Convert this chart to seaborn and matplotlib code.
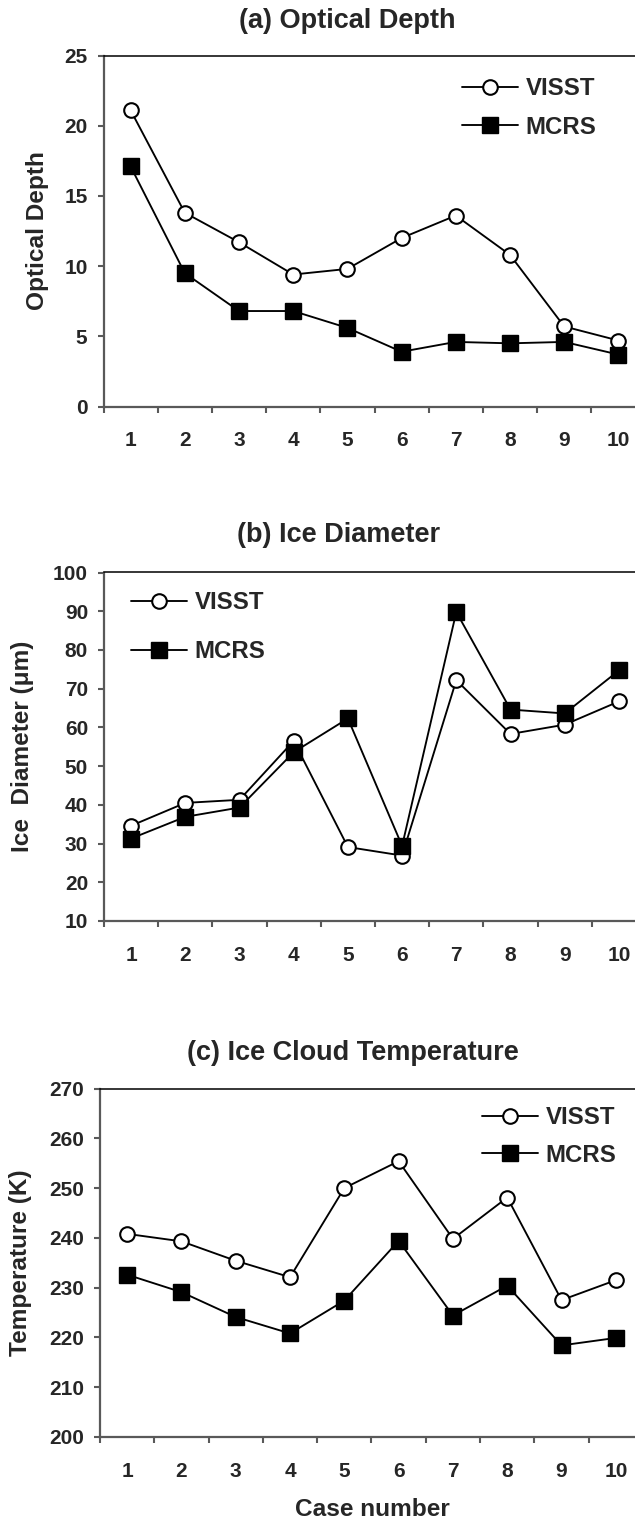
import matplotlib
matplotlib.use("Agg")
import matplotlib.pyplot as plt
import seaborn as sns
import pandas as pd

# ---- data -------------------------------------------------------------
cases = list(range(1, 11))
series_names = ["VISST", "MCRS"]

optical_visst = [21.1, 13.8, 11.7, 9.4, 9.8, 12.0, 13.6, 10.8, 5.7, 4.7]
optical_mcrs = [17.1, 9.5, 6.8, 6.8, 5.6, 3.9, 4.6, 4.5, 4.6, 3.7]

diameter_visst = [34.6, 40.5, 41.3, 56.5, 29.1, 26.9, 72.2, 58.3, 60.7, 66.7]
diameter_mcrs = [31.3, 36.9, 39.3, 53.6, 62.3, 29.4, 89.8, 64.6, 63.6, 74.7]

temp_visst = [240.8, 239.3, 235.4, 232.1, 250.0, 255.4, 239.8, 248.1, 227.5, 231.5]
temp_mcrs = [232.6, 229.1, 224.1, 220.8, 227.4, 239.4, 224.4, 230.4, 218.4, 219.9]

titles = ["(a) Optical Depth", "(b) Ice Diameter", "(c) Ice Cloud Temperature"]
ylabels = ["Optical Depth", "Ice  Diameter (\u03bcm)", "Temperature (K)"]
yticks_a = [0, 5, 10, 15, 20, 25]
yticks_b = [10, 20, 30, 40, 50, 60, 70, 80, 90, 100]
yticks_c = [200, 210, 220, 230, 240, 250, 260, 270]
xlabel = "Case number"

# ---- style ------------------------------------------------------------
sns.set_theme(style="white")
plt.rcParams["font.family"] = ["Liberation Sans", "DejaVu Sans"]
plt.rcParams["font.weight"] = "bold"

W, H = 635, 1522
fig = plt.figure(figsize=(W / 100, H / 100), dpi=100)

AXIS_GREY = "#595959"
TICK_SIZE = 15
LABEL_SIZE = 17.6
LEGEND_SIZE = 17.3
TITLE_SIZE = 19.5


def frac_rect(left, top, right, bottom):
    return [left / W, 1 - bottom / H, (right - left) / W, (bottom - top) / H]


panels = [
    dict(rect=frac_rect(103.5, 55.5, 645.5, 406.5), values=(optical_visst, optical_mcrs),
         yticks=yticks_a, title_xy=(347, 21), ylabel_x=38,
         legend_xy=(462, 77), labelspacing=0.65),
    dict(rect=frac_rect(104, 572.5, 646, 921), values=(diameter_visst, diameter_mcrs),
         yticks=yticks_b, title_xy=(339, 535), ylabel_x=23,
         legend_xy=(131, 591), labelspacing=1.1),
    dict(rect=frac_rect(100, 1088.5, 643, 1437), values=(temp_visst, temp_mcrs),
         yticks=yticks_c, title_xy=(353, 1053), ylabel_x=20,
         legend_xy=(482, 1106), labelspacing=0.62),
]

for i, p in enumerate(panels):
    ax = fig.add_axes(p["rect"])
    v_visst, v_mcrs = p["values"]
    df = pd.DataFrame({"case": cases * 2,
                       "value": list(v_visst) + list(v_mcrs),
                       "series": [series_names[0]] * 10 + [series_names[1]] * 10})

    sns.lineplot(data=df[df.series == "VISST"], x="case", y="value", ax=ax,
                 color="black", linewidth=1.35, marker="o", markersize=10.5,
                 markerfacecolor="white", markeredgecolor="black",
                 markeredgewidth=1.5, legend=False)
    sns.lineplot(data=df[df.series == "MCRS"], x="case", y="value", ax=ax,
                 color="black", linewidth=1.35, marker="s", markersize=11.5,
                 markerfacecolor="black", markeredgecolor="black",
                 markeredgewidth=1.0, legend=False)

    yt = p["yticks"]
    ax.set_ylim(yt[0], yt[-1])
    ax.set_yticks(yt)
    ax.set_xlim(0.5, 10.5)

    # category boundaries carry the tick marks, labels sit at category centres
    ax.set_xticks([c + 0.5 for c in [0] + cases])
    ax.set_xticklabels([])
    ax.set_xticks(cases, minor=True)
    ax.set_xticklabels([str(c) for c in cases], minor=True)

    ax.tick_params(axis="x", which="major", direction="out", length=4.5,
                   width=1.5, color=AXIS_GREY, bottom=True)
    ax.tick_params(axis="x", which="minor", length=0, pad=18, labelsize=TICK_SIZE)
    ax.tick_params(axis="y", direction="out", length=4.5, width=1.5,
                   color=AXIS_GREY, left=True, pad=7, labelsize=TICK_SIZE)

    for lab in ax.get_xticklabels(minor=True) + ax.get_yticklabels():
        lab.set_fontweight("bold")

    ax.spines["left"].set_color(AXIS_GREY)
    ax.spines["left"].set_linewidth(1.6)
    ax.spines["bottom"].set_color(AXIS_GREY)
    ax.spines["bottom"].set_linewidth(1.6)
    ax.spines["top"].set_color("black")
    ax.spines["top"].set_linewidth(1.1)
    ax.spines["right"].set_visible(False)

    ax.set_xlabel("")
    ax.set_ylabel(ylabels[i], fontsize=LABEL_SIZE, fontweight="bold")
    ax.yaxis.set_label_coords((p["ylabel_x"] - p["rect"][0] * W) / (p["rect"][2] * W), 0.5)
    ax.yaxis.label.set_verticalalignment("center")

    tx, ty = p["title_xy"]
    fig.text(tx / W, 1 - ty / H, titles[i], ha="center", va="center",
             fontsize=TITLE_SIZE, fontweight="bold")

    lx, ly = p["legend_xy"]
    ax.legend(handles=ax.lines[:2], labels=series_names, loc="upper left",
              bbox_to_anchor=(lx / W, 1 - ly / H), bbox_transform=fig.transFigure,
              frameon=False, borderpad=0, borderaxespad=0, handlelength=2.35,
              handletextpad=0.3, labelspacing=p["labelspacing"],
              prop={"size": LEGEND_SIZE, "weight": "bold"})

    if i == 2:
        fig.text(372 / W, 1 - 1510 / H, xlabel, ha="center", va="center",
                 fontsize=LABEL_SIZE, fontweight="bold")

fig.savefig("out.png", dpi=100)
